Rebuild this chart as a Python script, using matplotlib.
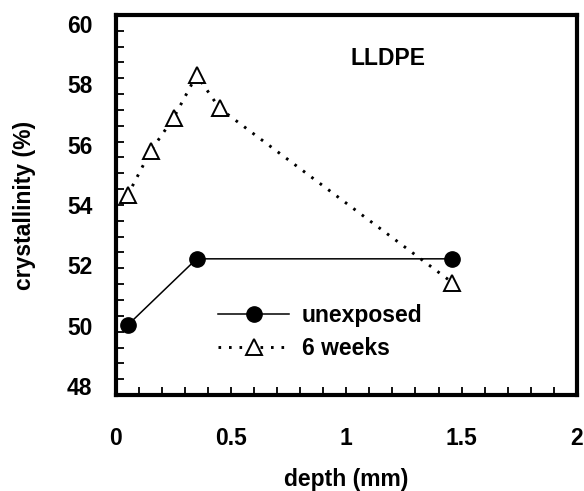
import matplotlib
matplotlib.use("Agg")
import matplotlib.pyplot as plt
from matplotlib.ticker import MultipleLocator
import matplotlib.transforms as mtransforms

plt.rcParams['font.family'] = ['Liberation Sans', 'DejaVu Sans']
plt.rcParams['font.weight'] = 'bold'

# data
depth_unexposed = [0.05, 0.35, 1.46]
cryst_unexposed = [50.2, 52.3, 52.3]
depth_6w = [0.05, 0.15, 0.25, 0.35, 0.45, 1.46]
cryst_6w = [54.3, 55.7, 56.75, 58.1, 57.05, 51.55]
xticks = [0, 0.5, 1, 1.5, 2]
xticklabels = ['0', '0.5', '1', '1.5', '2']
yticks = [48, 50, 52, 54, 56, 58, 60]

fig = plt.figure(figsize=(5.84, 4.91), dpi=100)
ax = fig.add_axes([0.1986, 0.1955, 0.7890, 0.774])

ax.plot(depth_unexposed, cryst_unexposed, color='black', lw=1.1,
        marker='o', ms=11, mfc='black', mec='black', label='unexposed', zorder=3)
ax.plot(depth_6w, cryst_6w, color='black', lw=2.1, linestyle=(0, (0.9, 2.7)),
        marker='^', ms=11, mfc='white', mec='black', mew=1.4, label='6 weeks', zorder=2)

ax.set_xlim(0, 2)
ax.set_ylim(48, 60)
ax.set_xticks(xticks)
ax.set_xticklabels(xticklabels)
ax.set_yticks(yticks)
ax.xaxis.set_minor_locator(MultipleLocator(0.1))
ax.yaxis.set_minor_locator(MultipleLocator(0.5))

for s in ax.spines.values():
    s.set_linewidth(3)

ax.tick_params(axis='both', which='both', direction='in', top=False, right=False,
               width=1.3, labelsize=16.5)
ax.tick_params(axis='both', which='both', length=6)
ax.tick_params(axis='y', which='major', pad=17)
ax.tick_params(axis='x', which='major', pad=23)

# slight compression of y tick labels toward axis center (as in reference)
for t, lab in zip(yticks, ax.get_yticklabels()):
    dy = -(t - 54) * 31.7 * 0.045 / 100.0
    lab.set_transform(lab.get_transform() + mtransforms.ScaledTranslation(0, dy, fig.dpi_scale_trans))

ax.set_xlabel('depth (mm)', fontsize=16.5, fontweight='bold', labelpad=13)
ax.set_ylabel('crystallinity (%)', fontsize=16.5, fontweight='bold', labelpad=22)

ax.text(0.59, 0.885, 'LLDPE', transform=ax.transAxes, fontsize=16.5,
        fontweight='bold', ha='center', va='center')

leg = ax.legend(loc='center left', bbox_to_anchor=(0.222, 0.166), frameon=False,
                fontsize=16.5, handlelength=3.1, handletextpad=0.55,
                labelspacing=0.45, borderpad=0, borderaxespad=0)

fig.savefig('out.png', dpi=100)
